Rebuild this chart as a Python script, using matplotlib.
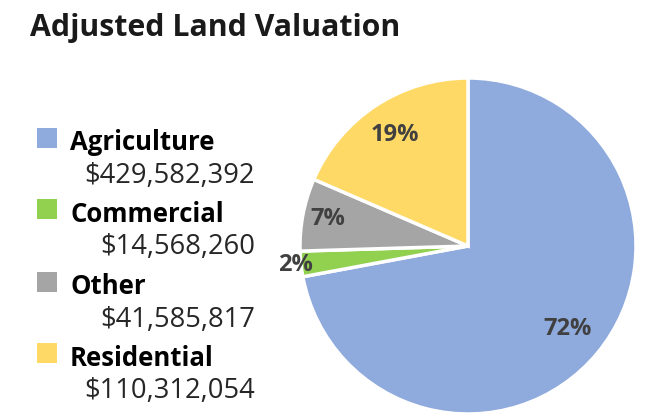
import matplotlib

matplotlib.use("Agg")
import matplotlib.pyplot as plt
import numpy as np
from matplotlib.patches import Rectangle

categories = ["Agriculture", "Commercial", "Other", "Residential"]
values = [429582392, 14568260, 41585817, 110312054]
colors = ["#8FAADC", "#92D050", "#A5A5A5", "#FFD966"]
label_dist = [0.77, 1.03, 0.85, 0.79]

W, H = 645, 417
plt.rcParams["font.family"] = ["Open Sans", "DejaVu Sans"]

fig = plt.figure(figsize=(W / 100, H / 100), dpi=100)

# pie placed in pixel terms: centre (468, 246), radius 168
cx, cy, r = 468, 246, 168
ax = fig.add_axes([(cx - r) / W, (H - cy - r) / H, 2 * r / W, 2 * r / H])
wedges, _ = ax.pie(
    values,
    colors=colors,
    startangle=90,
    counterclock=False,
    radius=1.0,
    wedgeprops=dict(edgecolor="white", linewidth=2.5),
)
ax.set_xlim(-1, 1)
ax.set_ylim(-1, 1)
ax.set_aspect("equal")
ax.axis("off")

total = sum(values)
for w, v, d in zip(wedges, values, label_dist):
    mid = np.deg2rad((w.theta1 + w.theta2) / 2)
    ax.text(d * np.cos(mid), d * np.sin(mid), f"{round(100 * v / total)}%",
            ha="center", va="center", fontsize=17, fontweight="bold",
            color="#404040")

fig.text(30 / W, 1 - 28 / H, "Adjusted Land Valuation", ha="left", va="center",
         fontsize=21.8, fontweight="bold", color="#1a1a1a")

row_y = [143, 214, 287, 358]
for name, v, c, y in zip(categories, values, colors, row_y):
    fig.patches.append(Rectangle((37 / W, 1 - (y + 5) / H), 20 / W, 20 / H,
                                 transform=fig.transFigure, facecolor=c,
                                 edgecolor="none"))
    fig.text(70 / W, 1 - y / H, name, ha="left", va="center", fontsize=18.5,
             fontweight="bold", color="black")
    fig.text(255 / W, 1 - (y + 33) / H, f"${v:,}", ha="right", va="center",
             fontsize=19.7, color="#262626")

fig.savefig("out.png", dpi=100)
